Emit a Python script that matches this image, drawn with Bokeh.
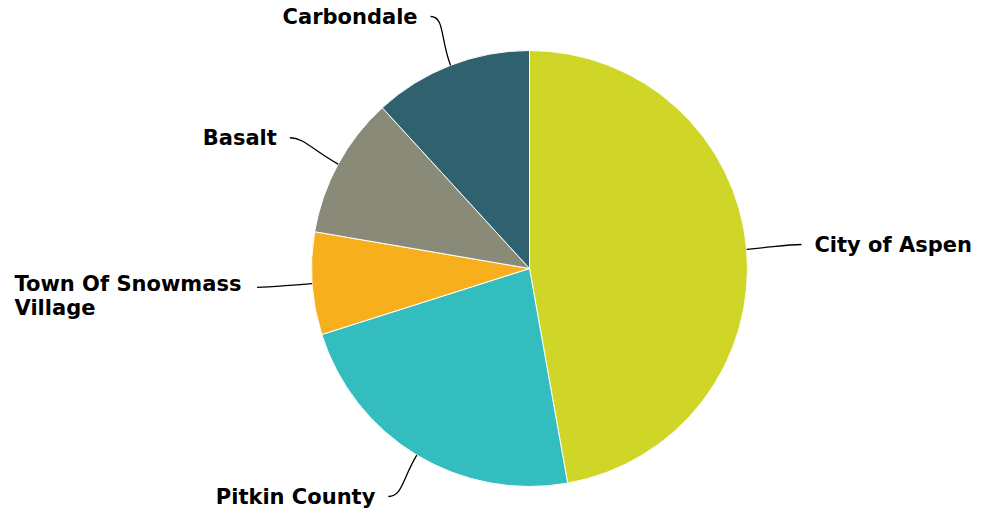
import numpy as np
from bokeh.plotting import figure
from bokeh.models import Range1d, ColumnDataSource
from bokeh.core.properties import value
from bokeh.embed import file_html
from bokeh.resources import INLINE

# ---- data (clockwise from 12 o'clock) ----
categories = ["City of Aspen", "Pitkin County", "Town Of Snowmass Village", "Basalt", "Carbondale"]
labels = ["City of Aspen", "Pitkin County", "Town Of Snowmass\nVillage", "Basalt", "Carbondale"]
values = [47.2, 22.9, 7.6, 10.5, 11.8]
colors = ["#CFD628", "#33BDBF", "#F7AF1E", "#8A8A79", "#2F616E"]

# ---- layout ----
W, H = 981, 512
CX, CY = 529, -268      # page pixel coords, y negated
R = 218
R_LABEL = 273
LEFT_PAD = 14
EDGE_PAD = 16

p = figure(width=W, height=H, output_backend="svg", toolbar_location=None,
           x_range=Range1d(0, W), y_range=Range1d(-H, 0),
           min_border=0)
p.axis.visible = False
p.grid.visible = False
p.outline_line_color = None
p.background_fill_color = "white"

vals = np.array(values, dtype=float)
frac = vals / vals.sum()
cum = np.concatenate([[0], np.cumsum(frac)]) * 2 * np.pi
theta0, theta1 = cum[:-1], cum[1:]
mid = (theta0 + theta1) / 2

src = ColumnDataSource(dict(
    start=np.pi / 2 - theta1, end=np.pi / 2 - theta0, color=colors, name=categories))
p.wedge(x=CX, y=CY, radius=R, start_angle="start", end_angle="end",
        fill_color="color", line_color="white", line_width=1, source=src)

sx, sy = np.sin(mid), np.cos(mid)
side = np.sign(sx)
x0 = CX + R * sx
y0 = CY + R * sy
cx0 = CX + (R + 28) * sx
cy0 = CY + (R + 28) * sy
x1 = CX + R_LABEL * sx
y1 = np.clip(CY + R_LABEL * sy, -H + EDGE_PAD, -EDGE_PAD)
cx1 = x1 - side * 14
cy1 = y1
p.bezier(x0=x0, y0=y0, x1=x1, y1=y1, cx0=cx0, cy0=cy0, cx1=cx1, cy1=cy1,
         line_color="black", line_width=1.3)

multi = np.array(["\n" in t for t in labels])
lx = np.where(multi & (side < 0), LEFT_PAD, x1 + side * 13)
ly = np.where(multi, y1 + 3, y1)
align = ["left" if (s > 0 or m) else "right" for s, m in zip(side, multi)]
lsrc = ColumnDataSource(dict(x=lx, y=ly, text=labels, align=align))
p.text(x="x", y="y", text="text", source=lsrc, text_align="align",
       text_baseline="top", y_offset=-12,
       text_font=value("DejaVu Sans"), text_font_style="bold",
       text_font_size="21px", text_line_height=0.97, text_color="black")

open("out.html", "w").write(file_html(p, INLINE))
